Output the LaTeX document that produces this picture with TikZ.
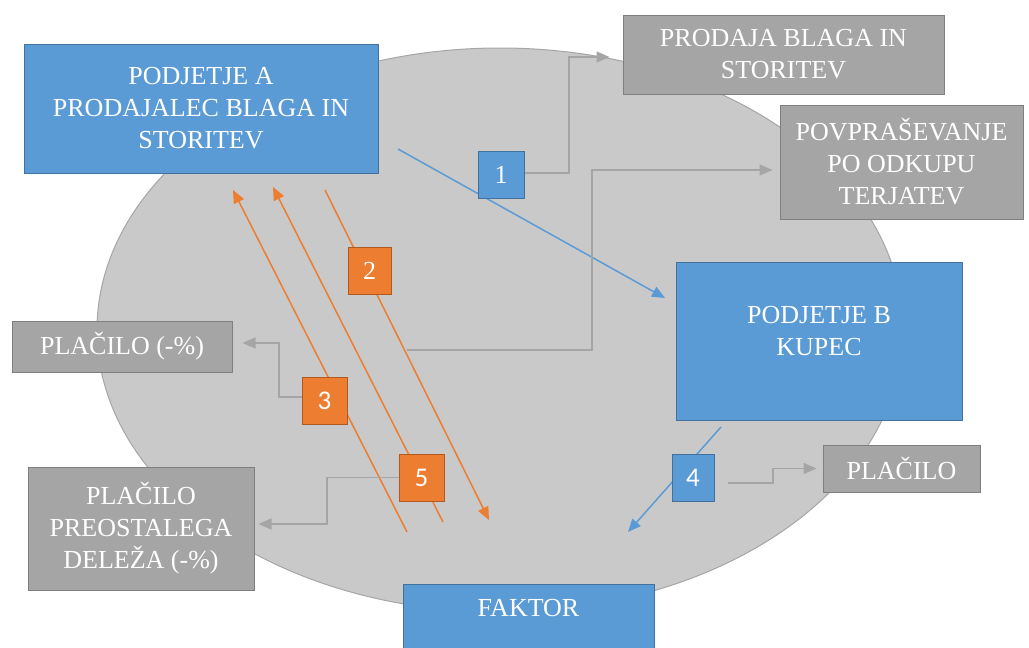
\documentclass[tikz,border=0pt]{standalone}
\usepackage{fontspec}
\setmainfont{Liberation Serif}
\newfontfamily\digitfont{Carlito}
\usetikzlibrary{arrows.meta,backgrounds}
\definecolor{bluefill}{HTML}{5B9BD5}
\definecolor{blueline}{HTML}{41719C}
\definecolor{grayfill}{HTML}{A5A5A5}
\definecolor{grayline}{HTML}{7F7F7F}
\definecolor{orangefill}{HTML}{ED7D31}
\definecolor{orangeline}{HTML}{AE5A21}
\definecolor{ellfill}{HTML}{C9C9C9}
\definecolor{ellline}{HTML}{A6A6A6}
\definecolor{conngray}{HTML}{A5A5A5}
\begin{document}
\begin{tikzpicture}[x=1pt,y=-1pt,
  boxbase/.style={draw, line width=1pt, inner sep=0pt, text=white, align=center,
    font=\fontsize{26}{32}\selectfont},
  bluebox/.style={boxbase, fill=bluefill, draw=blueline},
  graybox/.style={boxbase, fill=grayfill, draw=grayline},
  boxtext/.style={inner sep=0pt, text=white, align=center, font=\fontsize{26}{32}\selectfont},
  numblue/.style={boxbase, fill=bluefill, draw=blueline, minimum height=47pt},
  numorange/.style={boxbase, fill=orangefill, draw=orangeline, minimum height=47pt},
  serifdigit/.style={font=\fontsize{26}{30}\selectfont},
  sansdigit/.style={font=\digitfont\fontsize{27}{30}\selectfont},
  tip/.style={-{Triangle[length=13pt,width=11pt]}},
  gconn/.style={draw=conngray, line width=1.5pt, tip},
  bconn/.style={draw=bluefill, line width=1.5pt, tip},
  oconn/.style={draw=orangefill, line width=1.5pt, tip}
]
\useasboundingbox (0,0) rectangle (1029,648);

% boxes
\node[bluebox, minimum width=354pt, minimum height=129pt] (A) at (201,108.5)
  {PODJETJE A\\PRODAJALEC BLAGA IN\\STORITEV};
\node[graybox, minimum width=321pt, minimum height=79pt] (prodaja) at (783.5,54.5)
  {PRODAJA BLAGA IN\\STORITEV};
\node[graybox, minimum width=243pt, minimum height=114pt] (povp) at (901.5,162)
  {POVPRAŠEVANJE\\PO ODKUPU\\TERJATEV};
\node[bluebox, minimum width=286pt, minimum height=158pt] (B) at (819,341) {};
\node[boxtext] (Btext) at (819,331) {PODJETJE B\\KUPEC};
\node[graybox, minimum width=220pt, minimum height=51pt] (pl1) at (122,346.5)
  {PLAČILO (-\%)};
\node[graybox, minimum width=226pt, minimum height=123pt] (pl2) at (141,528.5)
  {PLAČILO\\PREOSTALEGA\\DELEŽA (-\%)};
\node[bluebox, minimum width=251pt, minimum height=86pt] (F) at (528.5,627) {};
\node[boxtext] (Ftext) at (528.5,608) {FAKTOR};
\node[graybox, minimum width=157pt, minimum height=47pt] (pl3) at (901.5,468.5)
  {PLAČILO};

% numbered boxes
\node[numblue, minimum width=46pt, serifdigit] (n1) at (501,175) {1};
\node[numorange, minimum width=43pt, serifdigit] (n2) at (369.5,270.5) {2};
\node[numorange, minimum width=45pt, sansdigit] (n3) at (324.5,400.5) {3};
\node[numorange, minimum width=45pt, sansdigit] (n5) at (421.5,477.5) {5};
\node[numblue, minimum width=42pt, sansdigit] (n4) at (693,477.5) {4};

% free ends
\coordinate (b1s) at (398,149);
\coordinate (b1e) at (665,298);
\coordinate (b4s) at (721,427);
\coordinate (b4e) at (628,532);
\coordinate (oas) at (407,532);
\coordinate (oae) at (233,190);
\coordinate (obs) at (443,522);
\coordinate (obe) at (273,187);
\coordinate (ocs) at (325,190);
\coordinate (oce) at (489,520);
\coordinate (gps) at (407,350);

\begin{pgfonlayer}{background}
  \fill[white] (0,0) rectangle (1029,648);
  \filldraw[fill=ellfill, draw=ellline, line width=1pt] (500,330) ellipse [x radius=403pt, y radius=282pt];
  % blue flows
  \draw[bconn] (b1s) -- (b1e);
  \draw[bconn] (b4s) -- (b4e);
  % orange flows
  \draw[oconn] (oas) -- (oae);
  \draw[oconn] (obs) -- (obe);
  \draw[oconn] (ocs) -- (oce);
  % gray elbow connectors
  \draw[gconn] ([yshift=2pt]n1.east) -- (569,173) |- ([xshift=-13pt,yshift=-2.5pt]prodaja.west);
  \draw[gconn] (gps) -- (592,350) |- ([xshift=-7pt,yshift=-8pt]povp.west);
  \draw[gconn] ([yshift=3.5pt]n3.west) -- (279,397) |- ([xshift=10pt,yshift=3.5pt]pl1.east);
  \draw[gconn] (n5.west) -- (327,477.5) |- ([xshift=4pt,yshift=4.5pt]pl2.west -| pl2.east);
  \draw[gconn] ([xshift=13pt,yshift=-5.5pt]n4.east) -- (773,483) |- ([xshift=-6pt]pl3.west);
\end{pgfonlayer}
\end{tikzpicture}
\end{document}
